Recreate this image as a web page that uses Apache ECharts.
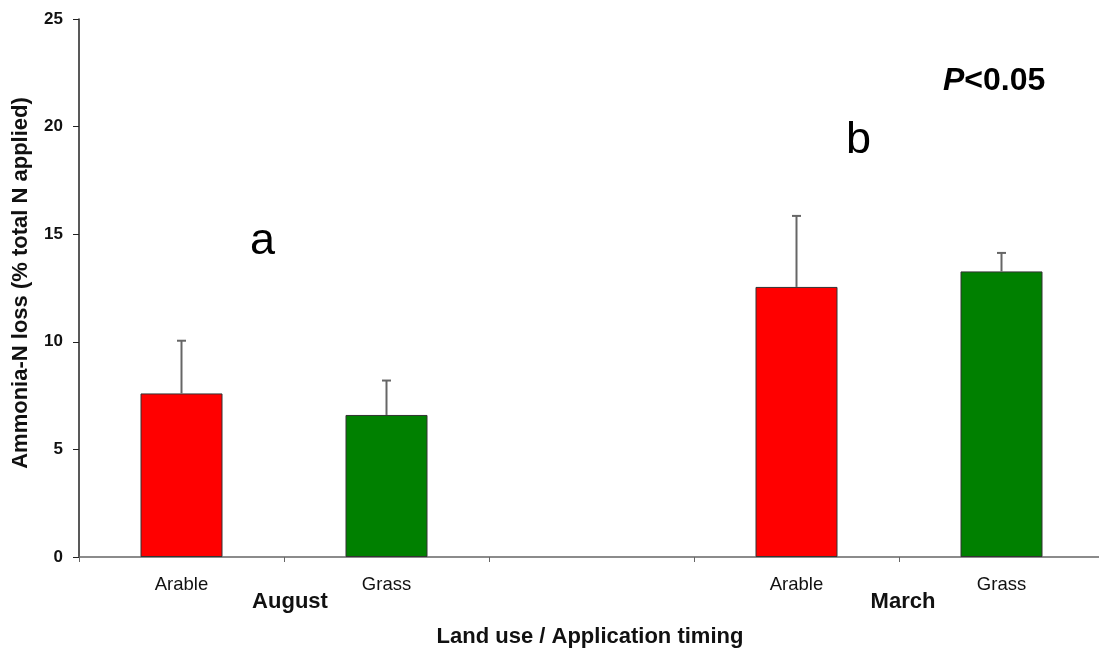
<!DOCTYPE html>
<html>
<head>
<meta charset="utf-8">
<script src="https://cdn.jsdelivr.net/npm/echarts@6/dist/echarts.min.js"></script>
<style>
html,body{margin:0;padding:0;background:#fff;overflow:hidden;width:1099px;height:655px;}
#chart{width:1110px;height:655px;}
</style>
</head>
<body>
<div id="chart"></div>
<script>
// ---- data ----
const categories = ['Arable', 'Grass', '', 'Arable', 'Grass'];
const groupLabels = ['August', 'March'];
const lossMean = [7.6, 6.6, null, 12.55, 13.27];
const lossUpper = [10.05, 8.2, null, 15.85, 14.13];
const barColors = ['#FF0000', '#008000', '#FF0000', '#FF0000', '#008000'];
const yTicks = [0, 5, 10, 15, 20, 25];
const letters = ['a', 'b'];
const pText = '<0.05';
const yTitle = 'Ammonia-N loss (% total N applied)';
const xTitle = 'Land use / Application timing';

const FONT = '"Liberation Sans", Arial, sans-serif';
const chart = echarts.init(document.getElementById('chart'));

const option = {
  backgroundColor: '#ffffff',
  animation: false,
  grid: { left: 79, right: 6, top: 19, bottom: 98, containLabel: false },
  xAxis: {
    type: 'category',
    data: categories,
    boundaryGap: true,
    axisLine: { lineStyle: { color: '#666', width: 1.5 } },
    axisTick: { show: true, length: 5, lineStyle: { color: '#666' } },
    axisLabel: { fontFamily: FONT, fontSize: 18.5, color: '#111', margin: 18 },
    splitLine: { show: false }
  },
  yAxis: {
    type: 'value',
    min: yTicks[0],
    max: yTicks[yTicks.length - 1],
    interval: 5,
    axisLine: { show: true, lineStyle: { color: '#222', width: 1.5 } },
    axisTick: { show: true, length: 6, lineStyle: { color: '#222' } },
    axisLabel: { fontFamily: FONT, fontWeight: 'bold', fontSize: 17, color: '#111', margin: 16 },
    splitLine: { show: false }
  },
  series: [
    {
      type: 'bar',
      data: lossMean.map((v, i) => ({ value: v, itemStyle: { color: barColors[i] } })),
      barWidth: '40%',
      itemStyle: { borderColor: '#333', borderWidth: 1 },
      z: 2
    },
    {
      type: 'custom',
      z: 3,
      data: lossUpper.map((u, i) => [i, lossMean[i], u]),
      renderItem: function (params, api) {
        const x = api.value(0);
        const m = api.value(1);
        const u = api.value(2);
        if (m == null || u == null || isNaN(m) || isNaN(u)) return null;
        const p0 = api.coord([x, m]);
        const p1 = api.coord([x, u]);
        const cw = 4.5;
        const st = { stroke: '#666', lineWidth: 2 };
        return {
          type: 'group',
          children: [
            { type: 'line', shape: { x1: p0[0], y1: p0[1], x2: p1[0], y2: p1[1] }, style: st },
            { type: 'line', shape: { x1: p1[0] - cw, y1: p1[1], x2: p1[0] + cw, y2: p1[1] }, style: st }
          ]
        };
      }
    }
  ]
};
chart.setOption(option);

// group labels & annotations positioned via axis scales
function px(pt) { return chart.convertToPixel({ gridIndex: 0 }, pt); }
const augX = (px([0, 0])[0] + px([1, 0])[0]) / 2;
const marX = (px([3, 0])[0] + px([4, 0])[0]) / 2;
const baseY = px([0, 0])[1];
chart.setOption({
  graphic: [
    { type: 'text', x: augX + 6, y: baseY + 45, style: { text: groupLabels[0], font: 'bold 22px ' + FONT, fill: '#111', align: 'center', verticalAlign: 'middle' } },
    { type: 'text', x: marX + 4, y: baseY + 45, style: { text: groupLabels[1], font: 'bold 22px ' + FONT, fill: '#111', align: 'center', verticalAlign: 'middle' } },
    { type: 'text', x: 590, y: baseY + 80, style: { text: xTitle, font: 'bold 22px ' + FONT, fill: '#111', align: 'center', verticalAlign: 'middle' } },
    { type: 'text', x: 21, y: 283, rotation: Math.PI / 2, style: { text: yTitle, font: 'bold 22px ' + FONT, fill: '#111', align: 'center', verticalAlign: 'middle' } },
    { type: 'text', left: 250, top: 219, style: { text: letters[0], font: '45px ' + FONT, fill: '#000' } },
    { type: 'text', left: 846, top: 118, style: { text: letters[1], font: '45px ' + FONT, fill: '#000' } },
    { type: 'text', left: 943, top: 65, style: { rich: { p: { font: 'italic bold 32px ' + FONT, fill: '#000' }, r: { font: 'bold 32px ' + FONT, fill: '#000' } }, text: '{p|P}{r|' + pText + '}' } }
  ]
});
</script>
</body>
</html>
